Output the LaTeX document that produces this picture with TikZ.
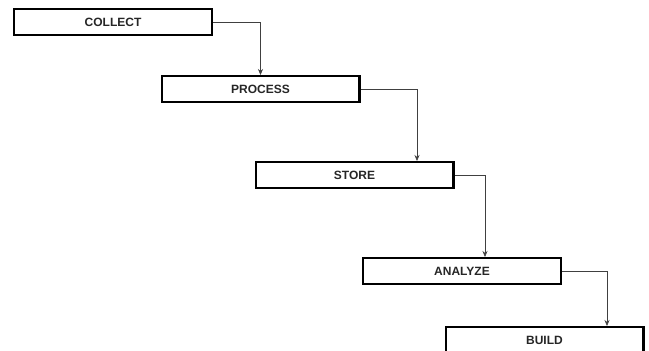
\documentclass[tikz,border=0pt]{standalone}
\usepackage{fontspec}
\setmainfont{Liberation Sans}
\usetikzlibrary{positioning,arrows.meta}

\begin{document}
\begin{tikzpicture}[x=1pt, y=-1pt, >={Stealth[length=6pt,width=5pt]},
    every node/.style={draw, line width=2.4pt, minimum width=197.6pt, minimum height=25.6pt, inner sep=0pt, font=\fontsize{12}{14}\selectfont\bfseries, text=black!85},
    link/.style={->, line width=0.6pt, draw=black!75}]
    \useasboundingbox (0,0) rectangle (649,351);

    % Stage boxes
    \node (collect) at (113,22) {COLLECT};
    \node (process) at (260.5,89) {PROCESS};
    \node (store) at (354.5,175) {STORE};
    \node (analyze) at (462,271) {ANALYZE};
    \node (build) at (544.5,340) {BUILD};

    % Connection arrows
    \draw[link] (collect.east) -| (process.north);
    \draw[link] (process.east) -| ([xshift=62.5pt]store.north);
    \draw[link] (store.east) -| ([xshift=23pt]analyze.north);
    \draw[link] (analyze.east) -| ([xshift=62.5pt]build.north);
\end{tikzpicture}
\end{document}
